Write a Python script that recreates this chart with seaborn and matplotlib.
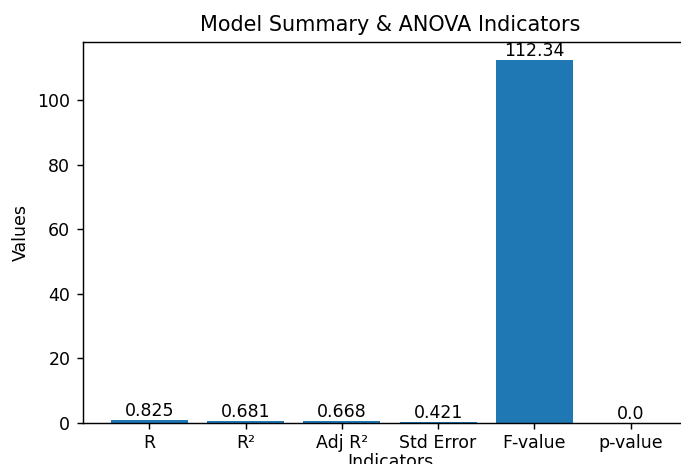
import matplotlib
matplotlib.use("Agg")
import pandas as pd
import seaborn as sns
import matplotlib.pyplot as plt

indicators = ["R", "R²", "Adj R²", "Std Error", "F-value", "p-value"]
values = [0.825, 0.681, 0.668, 0.421, 112.34, 0.0]
labels = ["0.825", "0.681", "0.668", "0.421", "112.34", "0.0"]

df = pd.DataFrame({"Indicators": indicators, "Values": values})

plt.rcParams["font.size"] = 9.6

fig = plt.figure(figsize=(681 / 130, 464 / 130), dpi=130)
ax = fig.add_axes([83 / 681, 41 / 464, 614 / 681, 381 / 464])

sns.barplot(data=df, x="Indicators", y="Values", color="#1f77b4",
            saturation=1, width=0.8, ax=ax)
ax.set_xlim(-0.69, 5.69)
ax.set_ylim(0, 112.34 * 1.05)
ax.spines["right"].set_visible(False)
ax.tick_params(labelsize=9.6)
ax.tick_params(axis="x", pad=2.5)

for i, (v, lab) in enumerate(zip(values, labels)):
    ax.text(i, v, lab, ha="center", va="bottom", fontsize=9.6)

ax.set_title("Model Summary & ANOVA Indicators", fontsize=11.5)
ax.set_xlabel("Indicators", fontsize=9.6, labelpad=0.5)
ax.set_ylabel("Values", fontsize=9.6)

fig.savefig("out.png", dpi=130)
